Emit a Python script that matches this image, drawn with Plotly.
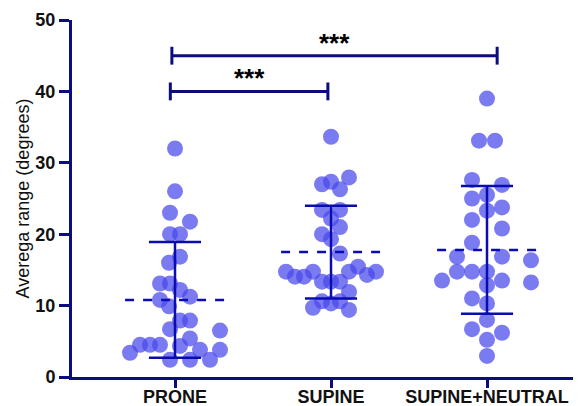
import plotly.graph_objects as go

categories = ["PRONE", "SUPINE", "SUPINE+NEUTRAL"]

prone_values = [32.0, 26.0, 23.0, 21.75, 20.0, 20.0, 16.85, 16.0, 13.1, 13.1,
                12.2, 11.25, 10.8, 9.9, 7.9, 7.9, 6.7, 6.5, 5.4, 4.5,
                4.5, 4.5, 4.35, 3.4, 3.8, 3.8, 2.4, 2.4, 2.4]
prone_jitter = [0, 0, -5, 15, -5, 5, 5, -6, -15, -5,
                5, 15, -15, -6, 5, 15, -5, 45, 15, -35,
                -25, -15, 5, -45, 25, 45, -5, 15, 35]

supine_values = [33.65, 27.0, 27.35, 27.95, 26.3, 23.4, 23.4, 22.2, 21.0, 20.0,
                 19.3, 17.3, 14.75, 14.05, 14.05, 14.75, 13.35, 13.35, 13.35, 14.75,
                 15.45, 14.3, 14.75, 11.9, 10.6, 10.3, 10.6, 9.7, 9.4]
supine_jitter = [0, -9, 0, 18, 9, -9, 9, 0, 9, -9,
                 0, 9, -45, -36, -27, -18, -9, 0, 9, 18,
                 27, 36, 45, 18, -9, 0, 9, -18, 18]

neutral_values = [39.0, 33.1, 33.1, 27.6, 26.9, 25.0, 25.5, 23.75, 23.3, 22.0,
                  20.8, 18.8, 16.85, 16.85, 16.35, 14.75, 14.75, 14.75, 13.5, 12.85,
                  13.5, 13.25, 11.0, 10.3, 8.0, 6.7, 6.2, 5.2, 2.95]
neutral_jitter = [0, -8, 8, -15, 15, -15, 0, 15, 0, -15,
                  15, -15, -30, 15, 44, -30, -15, 0, -45, 0,
                  15, 44, -15, 0, 0, -15, 15, 0, 0]

means = [10.8, 17.5, 17.8]
sds = [8.1, 6.5, 8.95]

comparisons = [(0, 1, 40.0, "***"), (0, 2, 45.0, "***")]

y_ticks = [0, 10, 20, 30, 40, 50]

# Layout scale
PX_PER_CAT = 156.0
AXIS_BLUE = "#0c0c7e"
BAR_BLUE = "#0b0bb2"
DOT = "rgba(72,72,236,0.72)"

fig = go.Figure()

groups = [(prone_values, prone_jitter), (supine_values, supine_jitter),
          (neutral_values, neutral_jitter)]

for i, (vals, jit) in enumerate(groups):
    xs = [i + 1 + j / PX_PER_CAT for j in jit]
    fig.add_trace(go.Scatter(
        x=xs, y=vals, mode="markers",
        marker=dict(size=16, color=DOT, line=dict(width=0)),
        showlegend=False, cliponaxis=False, hoverinfo="y"))

shapes = []
for i, (m, s) in enumerate(zip(means, sds)):
    c = i + 1
    # mean (dashed)
    shapes.append(dict(type="line", x0=c - 0.32, x1=c + 0.32, y0=m, y1=m,
                       line=dict(color=BAR_BLUE, width=2.5, dash="dash")))
    # SD bar
    shapes.append(dict(type="line", x0=c, x1=c, y0=m - s, y1=m + s,
                       line=dict(color=BAR_BLUE, width=2.5)))
    for yv in (m - s, m + s):
        shapes.append(dict(type="line", x0=c - 0.167, x1=c + 0.167, y0=yv, y1=yv,
                           line=dict(color=BAR_BLUE, width=2.5)))

annotations = []
nudges = {(0, 1): (-0.03, -0.02), (0, 2): (-0.02, 0.065)}
for a, b, yv, label in comparisons:
    na, nb = nudges.get((a, b), (0, 0))
    xa, xb = a + 1 + na, b + 1 + nb
    shapes.append(dict(type="line", x0=xa, x1=xb, y0=yv, y1=yv,
                       line=dict(color=AXIS_BLUE, width=3)))
    for xe in (xa, xb):
        shapes.append(dict(type="line", x0=xe, x1=xe, y0=yv - 1.25, y1=yv + 1.25,
                           line=dict(color=AXIS_BLUE, width=3)))
    annotations.append(dict(x=(xa + xb) / 2, y=yv, yshift=-4, text="<b>" + label + "</b>",
                            showarrow=False, yanchor="bottom",
                            font=dict(size=26, color="black",
                                      family="Liberation Sans, Arial, sans-serif")))

fig.update_layout(
    width=581, height=406,
    margin=dict(l=64, r=8, t=12, b=37),
    paper_bgcolor="white", plot_bgcolor="white",
    font=dict(family="Liberation Sans, Arial, sans-serif", color="black"),
    shapes=shapes, annotations=annotations,
    xaxis=dict(
        range=[1 - 103 / PX_PER_CAT, 3 + 94 / PX_PER_CAT],
        tickmode="array", tickvals=[1, 2, 3], ticktext=["<b>" + c + "</b>" for c in categories],
        showline=True, linecolor=AXIS_BLUE, linewidth=3,
        ticks="outside", ticklen=8, tickwidth=3, tickcolor=AXIS_BLUE,
        ticklabelstandoff=-7,
        tickfont=dict(size=18, color="#111111"),
        showgrid=False, zeroline=False, automargin=False, fixedrange=True),
    yaxis=dict(
        range=[0, 50], tickvals=y_ticks,
        ticktext=["<b>%d</b>" % t for t in y_ticks],
        showline=True, linecolor=AXIS_BLUE, linewidth=3,
        ticks="outside", ticklen=10, tickwidth=3, tickcolor=AXIS_BLUE,
        tickfont=dict(size=18, color="#111111"),
        title=dict(text="Averega range (degrees)", font=dict(size=18, color="#111111"),
                   standoff=2),
        showgrid=False, zeroline=False, automargin=False, fixedrange=True),
)

fig.write_html("out.html")
